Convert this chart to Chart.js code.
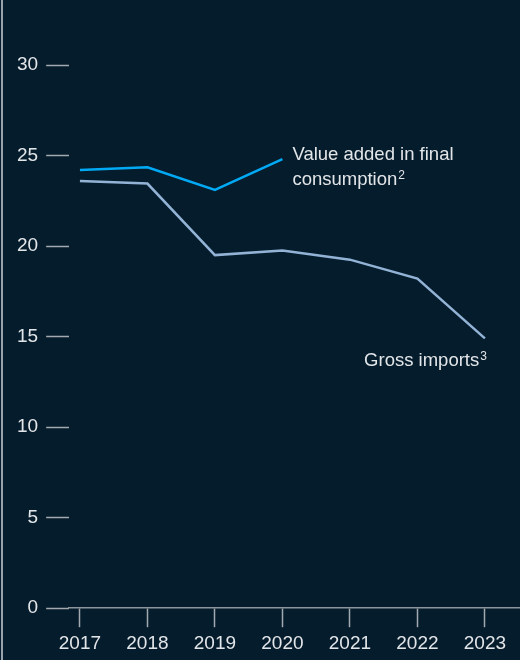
<!DOCTYPE html>
<html>
<head>
<meta charset="utf-8">
<script src="https://cdn.jsdelivr.net/npm/chart.js@4"></script>
<style>
  html, body { margin: 0; padding: 0; background: #051c2c; }
  #wrap { position: relative; width: 520px; height: 660px; }
  #wrap::before {
    content: ''; position: absolute; left: 1px; top: 0; bottom: 0;
    width: 1.5px; background: #9aa3ab;
  }
  canvas { display: block; }
</style>
</head>
<body>
<div id="wrap"><canvas id="chart" width="520" height="660"></canvas></div>
<script>
'use strict';

// ─── Data ─────────────────────────────────────────────────────────────────────

const years       = [2017, 2018, 2019, 2020, 2021, 2022, 2023];
const valueAdded  = [24.2, 24.35, 23.1, 24.8, null, null, null];
const grossImport = [23.6, 23.45, 19.5, 19.75, 19.25, 18.2, 14.9];
const yTicks      = [0, 5, 10, 15, 20, 25, 30];

const TEXT  = '#e3e6e9';
const TICK  = '#a3a9ae';
const FONT  = '"Liberation Sans", Arial, sans-serif';

// ─── Label plugin ─────────────────────────────────────────────────────────────

function drawSup(ctx, text, sup, x, y, align) {
  ctx.font = `18.5px ${FONT}`;
  const w = ctx.measureText(text).width;
  ctx.font = `12px ${FONT}`;
  const ws = ctx.measureText(sup).width;
  const left = align === 'right' ? x - w - ws - 1 : x;
  ctx.font = `18.5px ${FONT}`;
  ctx.fillText(text, left, y);
  ctx.font = `12px ${FONT}`;
  ctx.fillText(sup, left + w + 1, y - 6);
}

const seriesLabels = {
  id: 'seriesLabels',
  afterDatasetsDraw(chart) {
    const { ctx, scales: { x, y } } = chart;
    ctx.save();
    ctx.fillStyle = TEXT;
    ctx.textBaseline = 'alphabetic';
    ctx.textAlign = 'left';

    const vx = x.getPixelForValue(years[3]) + 10;
    const vy = y.getPixelForValue(valueAdded[3]);
    ctx.font = `18.5px ${FONT}`;
    ctx.fillText('Value added in final', vx, vy + 1);
    drawSup(ctx, 'consumption', '2', vx, vy + 26, 'left');

    const gx = x.getPixelForValue(years[6]) + 2;
    const gy = y.getPixelForValue(grossImport[6]);
    drawSup(ctx, 'Gross imports', '3', gx, gy + 28, 'right');
    ctx.restore();
  }
};

// ─── Chart ────────────────────────────────────────────────────────────────────

new Chart(document.getElementById('chart'), {
  type: 'line',
  data: {
    labels: years,
    datasets: [
      {
        label: 'Value added in final consumption',
        data: years.map((yr, i) => ({ x: yr, y: valueAdded[i] })),
        borderColor: '#00a9f4',
        borderWidth: 2.5,
        pointRadius: 0,
        tension: 0,
        spanGaps: false,
      },
      {
        label: 'Gross imports',
        data: years.map((yr, i) => ({ x: yr, y: grossImport[i] })),
        borderColor: '#93b3d6',
        borderWidth: 2.5,
        pointRadius: 0,
        tension: 0,
      },
    ],
  },
  options: {
    responsive: false,
    animation: false,
    layout: { padding: { top: 65, right: 0, bottom: 0, left: 9 } },
    scales: {
      x: {
        type: 'linear',
        min: 2016.84,
        max: 2023.52,
        afterBuildTicks: (s) => { s.ticks = years.map(v => ({ value: v })); },
        border: { display: true, color: '#8d959c', width: 1.5 },
        grid: {
          drawOnChartArea: false,
          drawTicks: true,
          tickLength: 19,
          tickColor: TICK,
          tickWidth: 1.5,
        },
        ticks: {
          color: TEXT,
          font: { family: FONT, size: 19 },
          padding: 5,
          maxRotation: 0,
          callback: v => String(v),
        },
      },
      y: {
        min: 0,
        max: 30,
        afterBuildTicks: (s) => { s.ticks = yTicks.map(v => ({ value: v })); },
        border: { display: false },
        grid: {
          drawOnChartArea: false,
          drawTicks: true,
          tickLength: 23,
          tickColor: TICK,
          tickWidth: 1.5,
        },
        ticks: {
          color: TEXT,
          font: { family: FONT, size: 19 },
          padding: 8,
        },
      },
    },
    plugins: {
      legend: { display: false },
      tooltip: { enabled: false },
    },
  },
  plugins: [seriesLabels],
});
</script>
</body>
</html>
